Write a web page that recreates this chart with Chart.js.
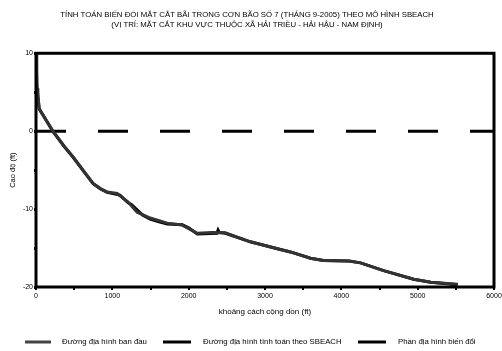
<!DOCTYPE html>
<html>
<head>
<meta charset="utf-8">
<script src="https://cdn.jsdelivr.net/npm/chart.js@4"></script>
<style>
html,body{margin:0;padding:0;background:#fff;}
#wrap{width:502px;height:351px;position:relative;}
</style>
</head>
<body>
<div id="wrap"><canvas id="c" width="502" height="351"></canvas></div>
<script>
// ---- data ----
const titleLines = [
  "TÍNH TOÁN BIẾN ĐỔI MẶT CẮT BÃI TRONG CƠN BÃO SỐ 7 (THÁNG 9-2005) THEO MÔ HÌNH SBEACH",
  "(VỊ TRÍ: MẶT CẮT KHU VỰC THUỘC XÃ HẢI TRIỀU - HẢI HẬU - NAM ĐỊNH)"
];
const seriesNames = [
  "Đường địa hình ban đầu",
  "Đường địa hình tính toán theo SBEACH",
  "Phần địa hình biến đổi"
];
const xTitle = "khoảng cách cộng dồn (ft)";
const yTitle = "Cao độ (ft)";
const xTickValues = [0, 1000, 2000, 3000, 4000, 5000, 6000];
const yTickValues = [10, 0, -10, -20];

const initDist = [0, 8, 15, 25, 45, 223, 380, 486, 617, 748, 850, 932, 1063, 1207, 1325, 1496, 1719, 1916, 2113, 2300, 2480, 2808, 3163, 3333, 3596, 3766, 4100, 4252, 4554, 4948, 5171, 5525];
const initElev = [10, 8, 5.5, 4.5, 2.8, 0, -2.05, -3.3, -5.0, -6.7, -7.4, -7.8, -8.0, -9.1, -10.4, -11.15, -11.8, -12.05, -13.1, -13.0, -13.05, -14.2, -15.1, -15.5, -16.3, -16.6, -16.65, -16.9, -17.9, -19.0, -19.4, -19.65];

const sbDist = [0, 5, 12, 22, 40, 223, 380, 486, 617, 748, 850, 932, 1100, 1207, 1250, 1400, 1496, 1600, 1719, 1916, 2000, 2113, 2370, 2385, 2400, 2480, 2808, 3163, 3333, 3596, 3766, 4100, 4252, 4554, 4948, 5171, 5525];
const sbElev = [10, 9, 6, 4.8, 2.9, -0.05, -2.1, -3.35, -5.05, -6.75, -7.45, -7.85, -8.2, -9.2, -9.4, -10.8, -11.3, -11.6, -11.9, -12.0, -12.4, -13.2, -13.1, -12.7, -13.0, -13.1, -14.2, -15.1, -15.5, -16.3, -16.6, -16.65, -16.9, -17.9, -19.0, -19.4, -19.7];

const changeDist = [0, 6000];
const changeElev = [0, 0];

const toPts = (xs, ys) => xs.map((x, i) => ({x: x, y: ys[i]}));

const FONT = "'Liberation Sans', Arial, sans-serif";

const framePlugin = {
  id: 'frame',
  afterDatasetsDraw(chart) {
    const {ctx, chartArea: a} = chart;
    ctx.save();
    ctx.strokeStyle = '#000';
    ctx.lineWidth = 3;
    ctx.strokeRect(a.left, a.top, a.right - a.left, a.bottom - a.top);
    ctx.restore();
  }
};

const legendPlugin = {
  id: 'customLegend',
  afterDraw(chart) {
    const ctx = chart.ctx;
    const lineX = [25, 163, 358];
    const lineW = [26, 28, 28];
    const textX = [62, 203, 398];
    const y = 342;
    ctx.save();
    ctx.font = "7.8px " + FONT;
    ctx.textBaseline = 'middle';
    chart.data.datasets.forEach((ds, i) => {
      ctx.fillStyle = ds.legendColor;
      ctx.fillRect(lineX[i], y - 1.5, lineW[i], 3);
      ctx.fillStyle = '#000';
      ctx.fillText(ds.label, textX[i], y);
    });
    ctx.restore();
  }
};

new Chart(document.getElementById('c'), {
  type: 'line',
  data: {
    datasets: [
      {label: seriesNames[0], data: toPts(initDist, initElev), borderColor: '#333', legendColor: '#444', borderWidth: 3, pointRadius: 0, tension: 0},
      {label: seriesNames[1], data: toPts(sbDist, sbElev), borderColor: '#000', legendColor: '#000', borderWidth: 3, pointRadius: 0, tension: 0},
      {label: seriesNames[2], data: toPts(changeDist, changeElev), borderColor: '#000', legendColor: '#000', borderWidth: 3, borderDash: [30, 32], pointRadius: 0, tension: 0}
    ]
  },
  options: {
    responsive: false,
    animation: false,
    layout: {padding: {left: 0, right: 8, top: 0, bottom: 34}},
    plugins: {
      legend: {display: false},
      tooltip: {enabled: false},
      title: {
        display: true,
        text: titleLines,
        color: '#000',
        font: {family: FONT, size: 7.8, weight: 'normal', lineHeight: 1.3},
        padding: {top: 10, bottom: 23}
      }
    },
    scales: {
      x: {
        type: 'linear',
        min: 0, max: 6000,
        afterFit(s) { s.height = 30; s.paddingLeft = 0; s.paddingRight = 0; },
        afterBuildTicks(s) { s.ticks = []; for (let v = 0; v <= 6000; v += 500) s.ticks.push({value: v}); },
        ticks: {
          color: '#000', font: {family: FONT, size: 7}, padding: 2, maxRotation: 0, autoSkip: false,
          callback: (v) => xTickValues.includes(v) ? String(v) : ''
        },
        grid: {drawOnChartArea: false, drawTicks: true, tickLength: 3, color: '#000', lineWidth: 2},
        border: {display: false},
        title: {display: true, text: xTitle, color: '#000', font: {family: FONT, size: 8}, padding: {top: 2, bottom: 0}}
      },
      y: {
        type: 'linear',
        min: -20, max: 10,
        afterFit(s) { s.width = 36; },
        afterBuildTicks(s) { s.ticks = []; for (let v = -20; v <= 10; v += 5) s.ticks.push({value: v}); },
        ticks: {
          color: '#000', font: {family: FONT, size: 7}, padding: 1, autoSkip: false,
          callback: (v) => yTickValues.includes(v) ? String(v) : ''
        },
        grid: {drawOnChartArea: false, drawTicks: true, tickLength: 2, color: '#000', lineWidth: 3},
        border: {display: false},
        title: {display: true, text: yTitle, color: '#000', font: {family: FONT, size: 7.5}, padding: {top: 8, bottom: 0}}
      }
    }
  },
  plugins: [framePlugin, legendPlugin]
});
</script>
</body>
</html>
